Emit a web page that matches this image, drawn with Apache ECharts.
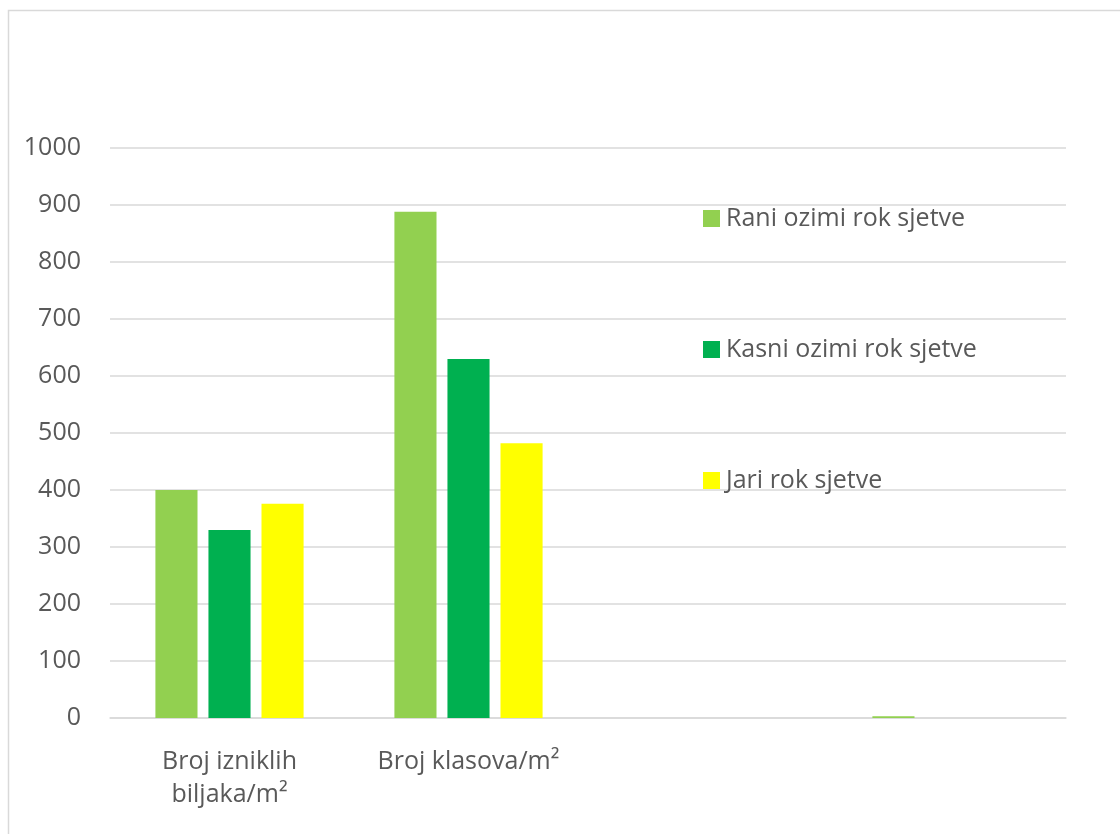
<!DOCTYPE html>
<html>
<head>
<meta charset="utf-8">
<script src="https://cdn.jsdelivr.net/npm/echarts@6/dist/echarts.min.js"></script>
<style>
  html, body { margin: 0; padding: 0; background: #fff; }
  #chart { width: 1120px; height: 834px; }
</style>
</head>
<body>
<div id="chart"></div>
<script>
// kategorije (treća i četvrta su prazne, kao u originalu)
const categories = ['Broj izniklih\nbiljaka/m²', 'Broj klasova/m²', '', ' ']
const seriesNames = ['Rani ozimi rok sjetve', 'Kasni ozimi rok sjetve', 'Jari rok sjetve']
const raniValues = [400, 888, null, 3]
const kasniValues = [330, 630, null, null]
const jariValues = [376, 482, null, null]
const yTicks = { min: 0, max: 1000, interval: 100 }

const colors = ['#92D050', '#00B050', '#FFFF00']
const textColor = '#595959'
const font = '"Open Sans", "Noto Sans", sans-serif'

const myChart = echarts.init(document.getElementById('chart'))

const seriesData = [raniValues, kasniValues, jariValues]

const option = {
  animation: false,
  backgroundColor: '#fff',
  graphic: [{
    type: 'rect',
    shape: { x: 8.5, y: 10.5, width: 1200, height: 900 },
    style: { fill: 'none', stroke: '#d9d9d9', lineWidth: 1.5 },
    z: -1
  }],
  grid: {
    left: 110,
    right: 54,
    top: 148,
    bottom: 116,
    containLabel: false
  },
  legend: {
    orient: 'vertical',
    left: 698,
    top: 201,
    itemWidth: 17,
    itemHeight: 17,
    itemGap: 106,
    icon: 'rect',
    data: seriesNames,
    textStyle: {
      color: textColor,
      fontSize: 25,
      fontFamily: font,
      padding: [0, 0, 0, 1]
    }
  },
  xAxis: {
    type: 'category',
    data: categories,
    axisLine: { show: true, lineStyle: { color: '#d9d9d9', width: 1.5 } },
    axisTick: { show: false },
    axisLabel: {
      color: textColor,
      fontSize: 25,
      fontFamily: font,
      margin: 27,
      lineHeight: 33,
      interval: 0
    }
  },
  yAxis: {
    type: 'value',
    min: yTicks.min,
    max: yTicks.max,
    interval: yTicks.interval,
    axisLine: { show: false },
    axisTick: { show: false },
    splitLine: { lineStyle: { color: '#d9d9d9', width: 1.5 } },
    axisLabel: {
      color: textColor,
      fontSize: 25,
      fontFamily: font,
      margin: 29,
      formatter: v => String(v)
    }
  },
  series: seriesNames.map((name, i) => ({
    name: name,
    type: 'bar',
    data: seriesData[i],
    barGap: '26%',
    barCategoryGap: '38%',
    itemStyle: { color: colors[i] }
  }))
}

myChart.setOption(option)
</script>
</body>
</html>
